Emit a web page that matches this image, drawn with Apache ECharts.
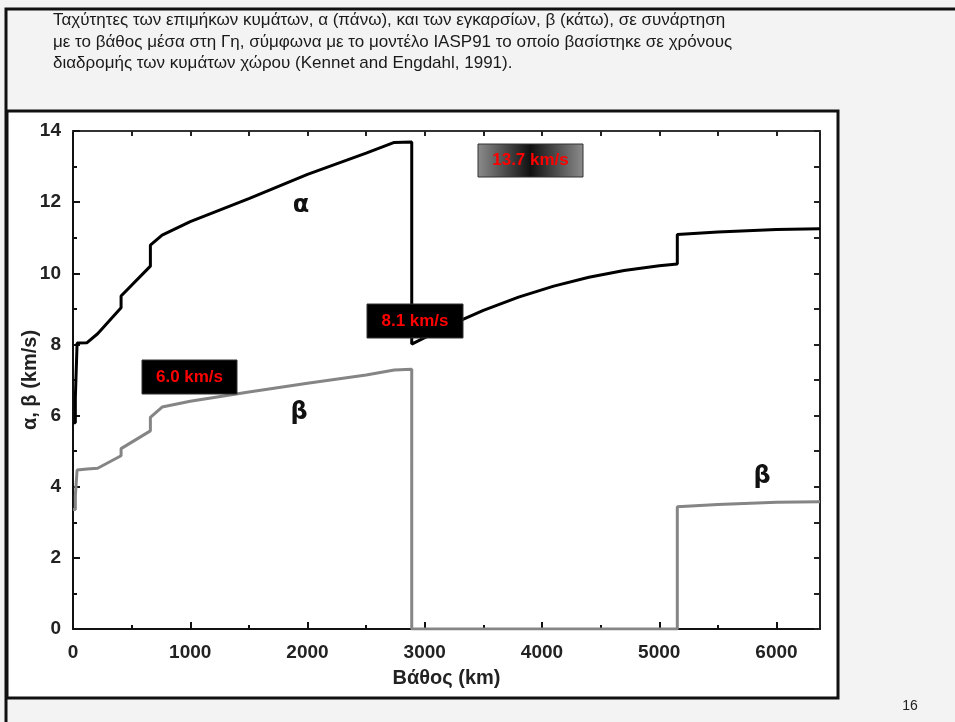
<!DOCTYPE html>
<html>
<head>
<meta charset="utf-8">
<script src="https://cdn.jsdelivr.net/npm/echarts@6/dist/echarts.min.js"></script>
<style>
  html, body { margin: 0; padding: 0; background: #f3f3f3; }
  #chart { width: 955px; height: 722px; }
</style>
</head>
<body>
<div id="chart"></div>
<script>
  // IASP91, ταχύτητες α (P) και β (S) ως προς το βάθος
  const alphaDepth = [0, 20, 20, 35, 35, 120, 210, 410, 410, 660, 660, 760, 1000, 1500, 2000, 2500, 2740, 2889,
    2889, 3200, 3500, 3800, 4100, 4400, 4700, 5000, 5154, 5154, 5500, 6000, 6371];
  const alphaVel = [5.8, 5.8, 6.5, 6.5, 8.04, 8.05, 8.30, 9.03, 9.36, 10.20, 10.79, 11.07, 11.45, 12.10, 12.78, 13.38, 13.68, 13.69,
    8.01, 8.52, 8.96, 9.33, 9.64, 9.89, 10.08, 10.21, 10.26, 11.09, 11.16, 11.23, 11.25];

  const betaDepth = [0, 20, 20, 35, 35, 120, 210, 410, 410, 660, 660, 760, 1000, 1500, 2000, 2500, 2740, 2889,
    2889, 5154, 5154, 5500, 6000, 6371];
  const betaVel = [3.36, 3.36, 3.75, 3.75, 4.47, 4.50, 4.52, 4.87, 5.07, 5.57, 5.95, 6.24, 6.40, 6.66, 6.91, 7.14, 7.28, 7.30,
    0, 0, 3.44, 3.50, 3.56, 3.58];

  const xMajorTicks = [0, 1000, 2000, 3000, 4000, 5000, 6000];
  const xMinorTicks = [500, 1500, 2500, 3500, 4500, 5500];
  const xTopTicks = [500, 1000, 1500, 2000, 2500, 3000, 3500, 4000, 4500, 5000, 5500, 6000];

  const caption = [
    'Ταχύτητες των επιμήκων κυμάτων, α (πάνω), και των εγκαρσίων, β (κάτω), σε συνάρτηση',
    'με το βάθος μέσα στη Γη, σύμφωνα με το μοντέλο IASP91 το οποίο βασίστηκε σε χρόνους',
    'διαδρομής των κυμάτων χώρου (Kennet and Engdahl, 1991).'
  ];

  const toPairs = (xs, ys) => xs.map((x, i) => [x, ys[i]]);

  const myChart = echarts.init(document.getElementById('chart'));

  const labelFont = { fontFamily: 'Liberation Sans, Arial, sans-serif', fontWeight: 'bold', color: '#222' };

  // κουτί με κόκκινη τιμή, πάνω από τις καμπύλες
  const boxText = (x, y, w, h, text, fill) => ([
    { type: 'rect', z: 100, shape: { x: x, y: y, width: w, height: h }, style: { fill: fill, stroke: '#333', lineWidth: 1 } },
    {
      type: 'text', z: 101, x: x + w / 2, y: y + h / 2,
      style: { text: text, fill: '#ff0000', font: 'bold 17px Liberation Sans, Arial, sans-serif', align: 'center', verticalAlign: 'middle' }
    }
  ]);

  const option = {
    backgroundColor: '#f3f3f3',
    animation: false,
    grid: { left: 73, right: 135, top: 131, bottom: 93 },
    xAxis: [
      {
        type: 'value', min: 0, max: 6371, position: 'bottom',
        name: 'Βάθος (km)', nameLocation: 'middle', nameGap: 39, nameMoveOverlap: false,
        nameTextStyle: Object.assign({ fontSize: 20 }, labelFont),
        axisLine: { onZero: false, lineStyle: { color: '#111', width: 2 } },
        axisTick: { inside: true, length: 7, lineStyle: { width: 2, color: '#111' }, customValues: xMajorTicks },
        axisLabel: Object.assign({ fontSize: 19, margin: 14, customValues: xMajorTicks, formatter: v => String(v) }, labelFont),
        splitLine: { show: false }
      },
      {
        type: 'value', min: 0, max: 6371, position: 'bottom',
        axisLine: { show: false, onZero: false },
        axisTick: { inside: true, length: 4, lineStyle: { width: 2, color: '#111' }, customValues: xMinorTicks },
        axisLabel: { show: false },
        splitLine: { show: false }
      },
      {
        type: 'value', min: 0, max: 6371, position: 'top',
        axisLine: { onZero: false, lineStyle: { color: '#333', width: 2 } },
        axisTick: { inside: true, length: 5, lineStyle: { width: 2, color: '#222' }, customValues: xTopTicks },
        axisLabel: { show: false },
        splitLine: { show: false }
      }
    ],
    yAxis: [
      {
        type: 'value', min: 0, max: 14, interval: 2, position: 'left',
        name: 'α, β (km/s)', nameLocation: 'middle', nameGap: 33, nameMoveOverlap: false,
        nameTextStyle: Object.assign({ fontSize: 20 }, labelFont),
        axisLine: { onZero: false, lineStyle: { color: '#111', width: 2 } },
        axisTick: { inside: true, length: 7, lineStyle: { width: 2, color: '#111' } },
        minorTick: { show: true, splitNumber: 2, length: 4, lineStyle: { width: 2, color: '#111' } },
        axisLabel: Object.assign({ fontSize: 19, margin: 12 }, labelFont),
        splitLine: { show: false }
      },
      {
        type: 'value', min: 0, max: 14, interval: 1, position: 'right',
        axisLine: { onZero: false, lineStyle: { color: '#222', width: 2 } },
        axisTick: { inside: true, length: 6, lineStyle: { width: 2, color: '#222' } },
        axisLabel: { show: false },
        splitLine: { show: false }
      }
    ],
    series: [
      {
        name: 'β', type: 'line', xAxisIndex: 0, yAxisIndex: 0,
        data: toPairs(betaDepth, betaVel),
        showSymbol: false, symbol: 'none',
        lineStyle: { color: '#858585', width: 3 }, z: 3
      },
      {
        name: 'α', type: 'line', xAxisIndex: 0, yAxisIndex: 0,
        data: toPairs(alphaDepth, alphaVel),
        showSymbol: false, symbol: 'none',
        lineStyle: { color: '#000', width: 3 }, z: 4
      }
    ],
    graphic: {
      elements: [
        // πλαίσιο διαφάνειας
        { type: 'polyline', z: -10, shape: { points: [[6, 722], [6, 9], [955, 9]] }, style: { stroke: '#111', lineWidth: 3, fill: null } },
        { type: 'rect', z: -9, shape: { x: 7, y: 111, width: 831, height: 587 }, style: { fill: '#fff', stroke: '#111', lineWidth: 3 } },
        {
          type: 'text', x: 53, y: 10,
          style: {
            text: caption.join('\n'), fill: '#1a1a1a', lineHeight: 21.5,
            font: '17px Liberation Sans, Arial, sans-serif'
          }
        },
        { type: 'text', x: 910, y: 706, style: { text: '16', fill: '#222', font: '14px Liberation Sans, Arial, sans-serif', align: 'center', verticalAlign: 'middle' } },
        // ετικέτες καμπυλών
        { type: 'text', x: 301, y: 206, z: 10, style: { text: 'α', fill: '#111', font: 'bold 24px DejaVu Sans, sans-serif', align: 'center', verticalAlign: 'middle' } },
        { type: 'text', x: 299, y: 413, z: 10, style: { text: 'β', fill: '#111', font: 'bold 24px DejaVu Sans, sans-serif', align: 'center', verticalAlign: 'middle' } },
        { type: 'text', x: 762, y: 477, z: 10, style: { text: 'β', fill: '#111', font: 'bold 24px DejaVu Sans, sans-serif', align: 'center', verticalAlign: 'middle' } }
      ].concat(
        boxText(478, 144, 105, 33, '13.7 km/s', {
          type: 'linear', x: 0, y: 0, x2: 1, y2: 0,
          colorStops: [{ offset: 0, color: '#8c8c8c' }, { offset: 0.5, color: '#111' }, { offset: 1, color: '#8c8c8c' }]
        }),
        boxText(367, 304, 96, 34, '8.1 km/s', '#000'),
        boxText(142, 360, 95, 34, '6.0 km/s', '#000')
      )
    }
  };

  myChart.setOption(option);
</script>
</body>
</html>
